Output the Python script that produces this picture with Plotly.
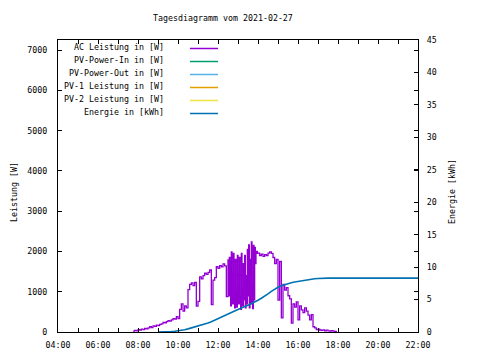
import plotly.graph_objects as go
import pandas as pd

DAY = "2021-02-27"
TITLE = "Tagesdiagramm vom 2021-02-27"

# AC power (W)
ac_times = [
    "07:45", "07:50", "07:55", "08:00", "08:05", "08:10", "08:15", "08:20", "08:25", "08:30",
    "08:35", "08:40", "08:45", "08:50", "08:55", "09:00", "09:05", "09:10", "09:15", "09:20",
    "09:25", "09:30", "09:35", "09:40", "09:45", "09:50", "09:55", "10:00", "10:05", "10:10",
    "10:15", "10:20", "10:25", "10:30", "10:35", "10:40", "10:45", "10:50", "10:55", "11:00",
    "11:05", "11:10", "11:15", "11:20", "11:25", "11:30", "11:35", "11:40", "11:45", "11:50",
    "11:55", "12:00", "12:05", "12:10", "12:15", "12:20", "12:25",
    "12:30", "12:32", "12:34", "12:36", "12:38", "12:40", "12:42", "12:44", "12:46", "12:48",
    "12:50", "12:52", "12:54", "12:56", "12:58", "13:00", "13:02", "13:04", "13:06", "13:08",
    "13:10", "13:12", "13:14", "13:16", "13:18", "13:20", "13:22", "13:24", "13:26", "13:28",
    "13:30", "13:32", "13:34", "13:36", "13:38", "13:40", "13:42", "13:44", "13:46", "13:48",
    "13:50", "13:52", "13:54", "13:56", "13:58",
    "14:00", "14:05", "14:10", "14:15", "14:20",
    "14:25", "14:30", "14:35", "14:40", "14:45", "14:50", "14:55", "15:00", "15:05", "15:10",
    "15:15", "15:20", "15:25", "15:30", "15:35", "15:40", "15:45", "15:50", "15:55", "16:00",
    "16:05", "16:10", "16:15", "16:20", "16:25", "16:30", "16:35", "16:40", "16:45", "16:50",
    "16:55", "17:00", "17:05", "17:10", "17:15", "17:20", "17:25", "17:30", "17:35", "17:40",
    "17:45", "17:50", "17:55",
]
ac_watts = [
    20, 40, 30, 60, 50, 70, 60, 90, 80, 100,
    130, 110, 150, 140, 170, 160, 190, 200, 240, 230,
    260, 280, 270, 300, 330, 320, 380, 330, 560, 700,
    520, 650, 600, 1050, 1180, 1220, 1150, 1230, 640, 760,
    1370, 1320, 1400, 1460, 1430, 1480, 1540, 680, 1290, 1350,
    1620, 1580, 1650, 1620, 1690, 1640, 880,
    1790, 900, 1850, 1700, 650, 1990, 1500, 700, 1950, 1300,
    600, 1800, 1000, 620, 1900, 1200, 700, 1850, 900, 560,
    1950, 1100, 650, 1700, 800, 1900, 600, 1400, 700, 2050,
    900, 2160, 600, 1800, 700, 2240, 1200, 580, 2150, 800,
    2100, 1700, 1980, 2000, 1950,
    1960, 1900, 1930, 1880, 1920,
    1900, 1960, 1990, 1950, 1850, 1700, 1800, 790, 1750, 350,
    1180, 1040, 1100, 900, 820, 220, 700, 620, 750, 300,
    650, 550, 480, 600, 520, 420, 300, 430, 130, 100,
    60, 70, 50, 40, 55, 30, 45, 30, 25, 35,
    20, 15, 0,
]

# Daily energy (kWh)
energy_times = [
    "09:00", "09:10", "09:20", "09:30", "09:40", "09:50", "10:00", "10:10", "10:20", "10:30",
    "10:40", "10:50", "11:00", "11:10", "11:20", "11:30", "11:40", "11:50", "12:00", "12:10",
    "12:20", "12:30", "12:40", "12:50", "13:00", "13:10", "13:20", "13:30", "13:40", "13:50",
    "14:00", "14:10", "14:20", "14:30", "14:40", "14:50", "15:00", "15:10", "15:20", "15:30",
    "15:40", "15:50", "16:00", "16:10", "16:20", "16:30", "16:40", "16:50", "17:00", "17:10",
    "17:20", "17:30", "22:00",
]
energy_kwh = [
    0.00, 0.00, 0.02, 0.05, 0.08, 0.12, 0.18, 0.25, 0.35, 0.48,
    0.62, 0.75, 0.88, 1.05, 1.22, 1.40, 1.58, 1.80, 2.02, 2.25,
    2.50, 2.75, 3.00, 3.25, 3.50, 3.70, 3.92, 4.12, 4.35, 4.58,
    4.90, 5.20, 5.50, 5.88, 6.25, 6.60, 6.90, 7.12, 7.30, 7.45,
    7.58, 7.70, 7.80, 7.90, 8.00, 8.08, 8.15, 8.20, 8.25, 8.28,
    8.30, 8.30, 8.30,
]

legend_labels = [
    "AC Leistung in [W]", "PV-Power-In in [W]", "PV-Power-Out in [W]",
    "PV-1 Leistung in [W]", "PV-2 Leistung in [W]", "Energie in [kWh]",
]
legend_colors = ["#9400D3", "#009E73", "#56B4E9", "#E69F00", "#F0E442", "#0072B2"]

x_tick_times = ["%02d:00" % h for h in range(4, 23)]
x_tick_text = [t if int(t[:2]) % 2 == 0 else "" for t in x_tick_times]
y_ticks = [0, 1000, 2000, 3000, 4000, 5000, 6000, 7000]
y2_ticks = [0, 5, 10, 15, 20, 25, 30, 35, 40, 45]

FONT = "DejaVu Sans Mono"
FS = 8.3


def ts(t):
    return pd.to_datetime(DAY + " " + t)


fig = go.Figure()
fig.add_trace(go.Scatter(
    x=[ts(t) for t in ac_times], y=ac_watts, mode="lines", name=legend_labels[0],
    line=dict(color=legend_colors[0], width=1.3, shape="hv"), yaxis="y"))
for i in range(1, 5):
    fig.add_trace(go.Scatter(x=[], y=[], mode="lines", name=legend_labels[i],
                             line=dict(color=legend_colors[i], width=1.3), yaxis="y"))
fig.add_trace(go.Scatter(
    x=[ts(t) for t in energy_times], y=energy_kwh, mode="lines", name=legend_labels[5],
    line=dict(color=legend_colors[5], width=1.6), yaxis="y2"))

# the page body adds an 8 px offset; work in screen pixels and convert
OFF = 8
L, R, T, B = 58, 418, 40, 332          # plot area on screen
W, H = R - L, B - T


def px(x):
    return (x - L) / W


def py(y):
    return (B - y) / H


annotations = []
shapes = []
row_y = [47, 60, 73, 86, 99, 112]
for lab, col, yy in zip(legend_labels, legend_colors, row_y):
    annotations.append(dict(text=lab, xref="paper", yref="paper", x=px(166), y=py(yy),
                            xanchor="right", yanchor="middle", showarrow=False,
                            font=dict(family=FONT, size=FS, color="black")))
    shapes.append(dict(type="line", xref="paper", yref="paper", x0=px(190), x1=px(218),
                       y0=py(yy + 1.5), y1=py(yy + 1.5), line=dict(color=col, width=1.5)))

annotations.append(dict(text=TITLE, xref="paper", yref="paper", x=px(223), y=py(18),
                        xanchor="center", yanchor="middle", showarrow=False,
                        font=dict(family=FONT, size=FS, color="black")))
annotations.append(dict(text="Leistung [W]", xref="paper", yref="paper", x=px(14), y=py(192),
                        xanchor="center", yanchor="middle", showarrow=False, textangle=-90,
                        font=dict(family=FONT, size=FS, color="black")))
annotations.append(dict(text="Energie [kWh]", xref="paper", yref="paper", x=px(452), y=py(192),
                        xanchor="center", yanchor="middle", showarrow=False, textangle=-90,
                        font=dict(family=FONT, size=FS, color="black")))

axis_common = dict(showgrid=False, zeroline=False, showline=True, linecolor="black", linewidth=1,
                   ticks="inside", ticklen=4, tickcolor="black",
                   tickfont=dict(family=FONT, size=FS, color="black"))

fig.update_layout(
    width=480, height=360, showlegend=False,
    paper_bgcolor="white", plot_bgcolor="white",
    margin=dict(l=L - OFF, r=480 - R + OFF, t=T - OFF, b=360 - B + OFF),
    xaxis=dict(type="date", range=[ts("04:00"), ts("22:00")],
               tickvals=[ts(t) for t in x_tick_times], ticktext=x_tick_text,
               mirror="ticks", ticklabelstandoff=5, **axis_common),
    yaxis=dict(range=[0, 7250], tickvals=y_ticks, ticktext=[str(v) for v in y_ticks],
               mirror="ticks", ticklabelstandoff=8, **axis_common),
    yaxis2=dict(range=[0, 45], tickvals=y2_ticks, ticktext=[str(v) for v in y2_ticks],
                overlaying="y", side="right", ticklabelstandoff=6, **axis_common),
    annotations=annotations, shapes=shapes,
)

fig.write_html("out.html")
